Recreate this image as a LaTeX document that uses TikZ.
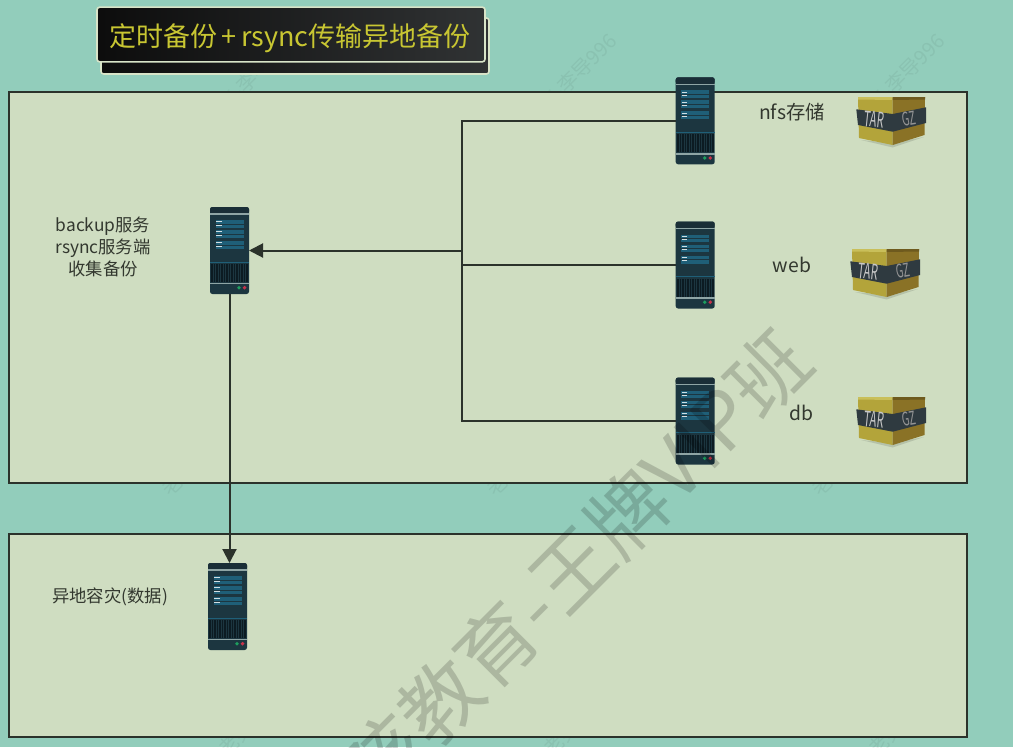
\documentclass[tikz,border=0pt]{standalone}
\usepackage{fontspec}
\setmainfont{Noto Sans CJK SC}
\usetikzlibrary{arrows.meta,calc}
\definecolor{bgteal}{HTML}{92CDBB}
\definecolor{panelbg}{HTML}{CFDDC1}
\definecolor{inkline}{HTML}{2B322B}
\definecolor{labelink}{HTML}{33382F}
\definecolor{srvbody}{HTML}{1C3640}
\definecolor{srvtop}{HTML}{1A2E37}
\definecolor{srvpanel}{HTML}{1F5F78}
\definecolor{srvgrille}{HTML}{0C1B22}
\definecolor{srvlight}{HTML}{8FA5A5}
\definecolor{ledgreen}{HTML}{1E9E5E}
\definecolor{ledred}{HTML}{C8324A}
\definecolor{titletext}{HTML}{C8C632}
\definecolor{titleedge}{HTML}{D8E4C8}
\definecolor{tarleft}{HTML}{B3A43A}
\definecolor{tarright}{HTML}{8A7226}
\definecolor{tartop}{HTML}{C9BF5A}
\definecolor{tartopr}{HTML}{6E5A1E}
\definecolor{tarband}{HTML}{2F3A40}
\tikzset{
  x=0.75pt,y=-0.75pt,
  zonebox/.style={draw=inkline,line width=1.5pt,fill=panelbg},
  conn/.style={draw=inkline,line width=1.5pt},
  arrowconn/.style={conn,-{Triangle[length=10.5pt,width=10.5pt]}},
  lbl/.style={text=labelink,font=\fontsize{13pt}{16pt}\selectfont,inner sep=0pt},
  hostlbl/.style={lbl,font=\fontsize{14.5pt}{16pt}\selectfont},
  srvnode/.style={minimum width=29.25pt,minimum height=65.25pt,inner sep=0pt,outer sep=0pt},
  tarnode/.style={minimum width=50pt,minimum height=36pt,inner sep=0pt,outer sep=0pt},
  smallmark/.style={text=black,text opacity=0.05,font=\fontsize{15pt}{18pt}\selectfont,rotate=45,inner sep=0pt},
  titlecard/.style={draw=titleedge,line width=1.2pt,rounded corners=2pt,left color=black!95,right color=srvgrille!20!black!82!white},
}
\newcommand{\serverat}[3]{%
  \node[srvnode] (#1) at (#2+19.5,#3+43.5) {};
  \begin{scope}[shift={(#2,#3)}]
    \fill[srvbody,rounded corners=1.8pt] (0,0) rectangle (39,87);
    \fill[srvtop,rounded corners=1.8pt] (0,0) rectangle (39,7);
    \fill[srvlight] (0,6.2) rectangle (39,7.6);
    \foreach \ya/\yb in {13/20.5,23/30.5,34/42}{
      \fill[srvpanel] (5.5,\ya) rectangle (33.5,\yb);
      \draw[srvbody,line width=0.3pt] (5.5,\ya+3.7) -- (33.5,\ya+3.7);
      \fill[white!80!srvpanel] (6.2,\ya+1.2) rectangle (11.5,\ya+2.3);
      \fill[white!80!srvpanel] (6.2,\ya+4.8) rectangle (11.5,\ya+5.9);
    }
    \fill[srvpanel] (0,54.6) rectangle (39,55.4);
    \fill[srvgrille] (1,57) rectangle (38,75);
    \foreach \gx in {3,5.5,...,36}{\draw[srvbody,line width=0.3pt] (\gx,57) -- (\gx,75);}
    \fill[srvlight] (0,75.6) rectangle (39,77.4);
    \fill[ledgreen] (29,80.7) circle (1.9);
    \fill[ledred] (34.6,80.7) circle (1.9);
  \end{scope}}
\newcommand{\tarat}[3]{%
  \node[tarnode] (#1) at (#2+33.5,#3+24) {};
  \begin{scope}[shift={(#2,#3)}]
    \fill[black,opacity=0.12] (3,43) -- (34.7,50.5) -- (66,40) -- (34.7,46) -- cycle;
    \fill[tarleft] (0,0.5) -- (34.7,0.5) -- (34.7,48) -- (1,41) -- cycle;
    \fill[tarright] (34.7,0.5) -- (67,0) -- (66.5,38) -- (34.7,48) -- cycle;
    \fill[tartop] (0,0) -- (34.7,0) -- (34.7,3) -- (0,2.5) -- cycle;
    \fill[tartopr] (34.7,0) -- (67,0) -- (67,2.5) -- (34.7,3) -- cycle;
    \fill[tarband] (-1.7,12.3) -- (34.7,17) -- (68,10.3) -- (68,26) -- (34.7,34.7) -- (0,28) -- cycle;
    \node[rotate=-6,inner sep=0pt,text=white!78!black] at (16,22.5) {\scalebox{0.52}[1]{\fontsize{16pt}{17pt}\selectfont TAR}};
    \node[rotate=10,inner sep=0pt,text=white!58!black] at (51.2,22) {\scalebox{0.58}[1]{\fontsize{14pt}{15pt}\selectfont GZ}};
  \end{scope}}
\begin{document}
\begin{tikzpicture}
  \useasboundingbox (0,0) rectangle (1013,747);
  \clip (0,0) rectangle (1013,747);
  \fill[bgteal] (0,0) rectangle (1013,747);

  % faint background watermark rows, mostly hidden by the panels
  \foreach \tx in {292,613,941}{
    \node[smallmark,anchor=east] at (\tx,37) {老男孩教育-李导996};}
  \foreach \sx in {165,490,815}{
    \node[smallmark,anchor=west] at (\sx,492) {老男孩};}
  \foreach \sx in {222,547,872}{
    \node[smallmark,anchor=west] at (\sx,752) {老男孩};}

  \draw[zonebox] (9,92) rectangle (967,483) ;
  \draw[zonebox] (9,534) rectangle (967,737);

  % title card
  \path[titlecard] (101,18) rectangle (489,74);
  \node[titlecard,minimum width=291pt,minimum height=41pt,inner sep=0pt] (title) at (291,34.5) {};
  \node[inner sep=0pt,text=titletext,font=\fontsize{20.25pt}{25pt}\selectfont] (titletxt) at (290,38.5) {定时备份\,+\,rsync传输异地备份};

  \serverat{nfs}{675.7}{77.3}
  \serverat{web}{675.7}{221.5}
  \serverat{db}{675.7}{377.5}
  \serverat{backup}{210}{207}
  \serverat{remote}{208}{563}

  \tarat{tarnfs}{858}{97}
  \tarat{tarweb}{852}{249}
  \tarat{tardb}{858}{397}

  \coordinate (trunk) at (462,250.5);
  \draw[conn] (nfs.west) -- (nfs.west -| trunk) -- (db.west -| trunk) -- (db.west);
  \draw[conn] (web.west) -- (web.west -| trunk);
  \draw[arrowconn] (trunk) -- (backup.east);
  \draw[arrowconn] (backup.south) -- (backup.south |- remote.north);

  \node[hostlbl] (lnfs) at (792,112.5) {nfs存储};
  \node[hostlbl] (lweb) at (792,265) {web};
  \node[hostlbl] (ldb) at (801,413) {db};
  \node[lbl,align=center,font=\fontsize{13pt}{16.2pt}\selectfont] (lbackup) at (103,247) {backup服务\\rsync服务端\\收集备份};
  \node[lbl] (lremote) at (110,597) {异地容灾(数据)};

  % large watermark on top
  \node[rotate=45,inner sep=0pt,text=black,text opacity=0.17,font=\fontsize{59.5pt}{66pt}\selectfont] (mark) at (576,565) {孩教育-王牌VIP班};
\end{tikzpicture}
\end{document}
